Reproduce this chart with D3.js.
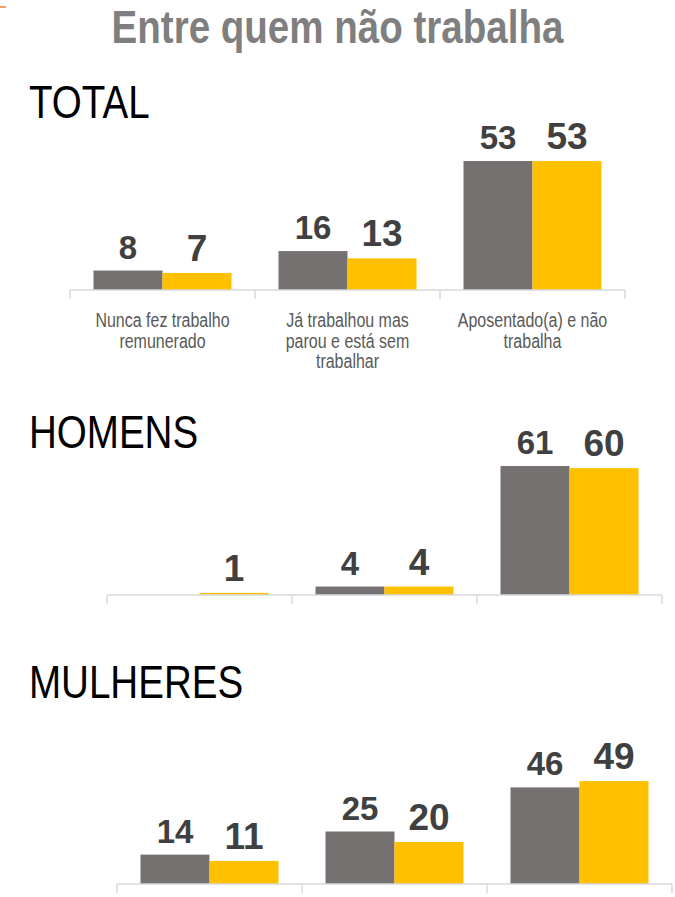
<!DOCTYPE html>
<html>
<head>
<meta charset="utf-8">
<script src="https://cdn.jsdelivr.net/npm/d3@7"></script>
<style>
  body { margin: 0; background: #fff; }
  svg { display: block; }
</style>
</head>
<body>
<div id="chart"></div>
<script>
// data
const categories = ["Nunca fez trabalho remunerado", "Já trabalhou mas parou e está sem trabalhar", "Aposentado(a) e não trabalha"];
const categoryLines = [["Nunca fez trabalho", "remunerado"], ["Já trabalhou mas", "parou e está sem", "trabalhar"], ["Aposentado(a) e não", "trabalha"]];
const seriesNames = ["cinza", "amarelo"];
const totalCinza = [8, 16, 53];
const totalAmarelo = [7, 13, 53];
const homensCinza = [null, 4, 61];
const homensAmarelo = [1, 4, 60];
const mulheresCinza = [14, 25, 46];
const mulheresAmarelo = [11, 20, 49];
const panelTitles = ["TOTAL", "HOMENS", "MULHERES"];

const width = 675;
const height = 897;
const colors = {cinza: "#767171", amarelo: "#FFC000"};
const narrow = 0.82; // no Arial Narrow here, so squeeze Liberation Sans

const svg = d3.select("#chart")
    .append("svg")
        .attr("width", width)
        .attr("height", height);

// squeeze a text (or tspan) horizontally so it looks like Arial Narrow
function squeeze(sel){
    sel.each(function(){
        const len = this.getComputedTextLength();
        d3.select(this)
            .attr("textLength", len * narrow)
            .attr("lengthAdjust", "spacingAndGlyphs");
    });
}

// little orange mark top-left
svg.append("line")
    .attr("x1", 0).attr("x2", 6)
    .attr("y1", 7).attr("y2", 7)
    .attr("stroke", "#ED7D31")
    .attr("stroke-width", 1.5);

svg.append("text")
    .text("Entre quem não trabalha")
    .attr("x", 337.5)
    .attr("y", 43)
    .attr("text-anchor", "middle")
    .attr("font-family", "'Liberation Sans', Arial, sans-serif")
    .attr("font-weight", "bold")
    .attr("font-size", 47)
    .attr("fill", "#7F7F7F")
    .call(squeeze);

const panels = [
    {titleY: 118, left: 70, axisY: 290, yMax: 60, plotH: 146, cinza: totalCinza, amarelo: totalAmarelo, showCats: true},
    {titleY: 448, left: 107, axisY: 595, yMax: 70, plotH: 148, cinza: homensCinza, amarelo: homensAmarelo, showCats: false},
    {titleY: 698, left: 117, axisY: 884, yMax: 60, plotH: 126, cinza: mulheresCinza, amarelo: mulheresAmarelo, showCats: false}
];

const innerWidth = 555;

panels.forEach((p, pi)=>{
    svg.append("text")
        .text(panelTitles[pi])
        .attr("x", 29)
        .attr("y", p.titleY)
        .attr("font-family", "'Liberation Sans', Arial, sans-serif")
        .attr("font-size", 47)
        .attr("fill", "#000")
        .call(squeeze);

    const data = categories.map((c, i)=>({cat: c, cinza: p.cinza[i], amarelo: p.amarelo[i]}));

    const xScale = d3.scaleBand()
                        .domain(categories)
                        .range([0, innerWidth])
                        .paddingInner(0.254)
                        .paddingOuter(0.127);
    const xSub = d3.scaleBand()
                        .domain(seriesNames)
                        .range([0, xScale.bandwidth()]);
    const yScale = d3.scaleLinear()
                        .domain([0, p.yMax])
                        .range([p.plotH, 0]);

    const group = svg.append("g")
                        .attr("transform", `translate(${p.left}, ${p.axisY - p.plotH})`);

    const cats = group.selectAll("g.cat")
                        .data(data)
                        .enter()
                            .append("g")
                                .attr("class", "cat")
                                .attr("transform", d=>`translate(${xScale(d.cat)}, 0)`);

    const bars = cats.selectAll("g.bar")
                        .data(d=>seriesNames.map(s=>({s: s, v: d[s]})).filter(e=>e.v != null))
                        .enter()
                            .append("g")
                                .attr("class", "bar");

    bars.append("rect")
        .attr("x", d=>xSub(d.s))
        .attr("width", xSub.bandwidth())
        .attr("y", d=>yScale(d.v))
        .attr("height", d=>p.plotH - yScale(d.v))
        .attr("fill", d=>colors[d.s]);

    bars.append("text")
        .text(d=>d.v)
        .attr("x", d=>xSub(d.s) + xSub.bandwidth() / 2)
        .attr("y", d=>yScale(d.v) - 12)
        .attr("text-anchor", "middle")
        .attr("font-family", "'Liberation Sans', Arial, sans-serif")
        .attr("font-weight", "bold")
        .attr("font-size", d=>d.s == "amarelo" ? 37 : 33)
        .attr("fill", "#404040");

    // category axis: baseline with ticks on the band edges
    const axis = group.append("g")
                        .attr("transform", `translate(0, ${p.plotH})`);
    axis.append("line")
        .attr("x1", 0).attr("x2", innerWidth)
        .attr("y1", 0).attr("y2", 0)
        .attr("stroke", "#D9D9D9")
        .attr("stroke-width", 1.5);
    const edges = categories.map(c=>xScale(c) - xScale.step() * xScale.paddingInner() / 2).concat([innerWidth]);
    axis.selectAll("line.tick")
        .data(edges)
        .enter()
            .append("line")
                .attr("class", "tick")
                .attr("x1", d=>d).attr("x2", d=>d)
                .attr("y1", 0).attr("y2", 9)
                .attr("stroke", "#D9D9D9")
                .attr("stroke-width", 1.5);

    if (p.showCats) {
        const labels = axis.selectAll("text.cat")
                        .data(categories)
                        .enter()
                            .append("text")
                                .attr("class", "cat")
                                .attr("y", 37)
                                .attr("text-anchor", "middle")
                                .attr("font-family", "'Liberation Sans', Arial, sans-serif")
                                .attr("font-size", 19.5)
                                .attr("fill", "#595959");
        labels.selectAll("tspan")
            .data((d, i)=>categoryLines[i].map(l=>({line: l, cx: xScale(d) + xScale.bandwidth() / 2})))
            .enter()
                .append("tspan")
                    .attr("x", d=>d.cx)
                    .attr("dy", (d, j)=>j == 0 ? 0 : 20.5)
                    .text(d=>d.line)
                    .call(squeeze);
    }
});
</script>
</body>
</html>
